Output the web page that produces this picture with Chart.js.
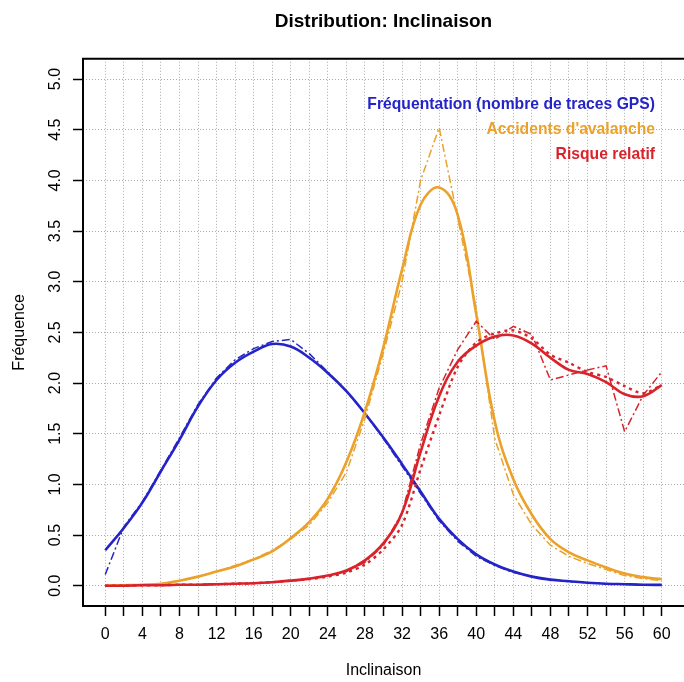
<!DOCTYPE html>
<html>
<head>
<meta charset="utf-8">
<script src="https://cdn.jsdelivr.net/npm/chart.js@4"></script>
<style>
  html, body { margin: 0; padding: 0; background: #fff; }
  #wrap { width: 684px; height: 682px; }
</style>
</head>
<body>
<div id="wrap"><canvas id="chart" width="684" height="682"></canvas></div>
<script>
// Inclinaison (degrés) - one value every 2°
const inclinaison = [0, 2, 4, 6, 8, 10, 12, 14, 16, 18, 20, 22, 24, 26, 28, 30,
                     32, 34, 36, 38, 40, 42, 44, 46, 48, 50, 52, 54, 56, 58, 60];
const labeledTicks = [0, 4, 8, 12, 16, 20, 24, 28, 32, 36, 40, 44, 48, 52, 56, 60];
const yTicks = [0, 0.5, 1, 1.5, 2, 2.5, 3, 3.5, 4, 4.5, 5];
const yTickLabels = ['0.0', '0.5', '1.0', '1.5', '2.0', '2.5', '3.0', '3.5', '4.0', '4.5', '5.0'];

// Fréquentation (nombre de traces GPS)
const frequentationLisse = [0.35, 0.57, 0.82, 1.13, 1.44, 1.77, 2.03, 2.20, 2.31, 2.385, 2.36, 2.25, 2.10, 1.92, 1.70, 1.46,
                            1.20, 0.93, 0.66, 0.46, 0.31, 0.21, 0.14, 0.09, 0.06, 0.045, 0.03, 0.02, 0.015, 0.01, 0.008];
const frequentationBrut = [0.11, 0.58, 0.83, 1.14, 1.46, 1.79, 2.05, 2.23, 2.34, 2.41, 2.43, 2.29, 2.11, 1.92, 1.70, 1.45,
                           1.18, 0.91, 0.64, 0.44, 0.29, 0.20, 0.13, 0.09, 0.06, 0.04, 0.03, 0.02, 0.015, 0.01, 0.008];

// Accidents d'avalanche
const accidentsLisse = [0, 0.005, 0.01, 0.02, 0.05, 0.09, 0.14, 0.19, 0.26, 0.34, 0.47, 0.63, 0.86, 1.22, 1.72, 2.36,
                        3.12, 3.76, 3.93, 3.66, 2.68, 1.62, 1.05, 0.70, 0.46, 0.33, 0.25, 0.18, 0.12, 0.085, 0.065];
const accidentsBrut = [0, 0.005, 0.01, 0.02, 0.05, 0.09, 0.14, 0.20, 0.26, 0.35, 0.46, 0.60, 0.82, 1.12, 1.65, 2.30,
                       3.00, 4.00, 4.52, 3.63, 2.73, 1.45, 0.90, 0.60, 0.40, 0.29, 0.22, 0.16, 0.10, 0.07, 0.05];

// Risque relatif
const risqueLisse = [0, 0, 0.005, 0.005, 0.01, 0.01, 0.015, 0.02, 0.025, 0.035, 0.05, 0.07, 0.10, 0.15, 0.25, 0.42,
                     0.72, 1.32, 1.87, 2.21, 2.37, 2.46, 2.47, 2.39, 2.25, 2.13, 2.09, 2.01, 1.89, 1.87, 1.98];
const risqueBrut = [0, 0, 0.005, 0.005, 0.01, 0.01, 0.015, 0.02, 0.025, 0.035, 0.05, 0.07, 0.10, 0.14, 0.23, 0.40,
                    0.72, 1.40, 1.95, 2.33, 2.61, 2.43, 2.56, 2.48, 2.03, 2.08, 2.13, 2.17, 1.52, 1.88, 2.11];
const risquePointille = [0, 0, 0.005, 0.005, 0.01, 0.01, 0.015, 0.02, 0.025, 0.035, 0.05, 0.065, 0.09, 0.13, 0.21, 0.36,
                         0.60, 1.15, 1.68, 2.16, 2.40, 2.49, 2.52, 2.44, 2.28, 2.20, 2.11, 2.06, 1.97, 1.90, 1.98];

const seriesNames = ['Fréquentation (nombre de traces GPS)', "Accidents d'avalanche", 'Risque relatif'];

const BLUE = '#2424c8';
const ORANGE = '#eba12a';
const RED = '#d9232b';
const seriesColors = [BLUE, ORANGE, RED];
const FONT = '"Liberation Sans", Arial, Helvetica, sans-serif';

function points(values) {
    return inclinaison.map((x, i) => ({ x: x, y: values[i] }));
}

function solid(label, values, color) {
    return { label, data: points(values), borderColor: color, borderWidth: 2.6, tension: 0.4, pointRadius: 0, fill: false };
}

function dashed(label, values, color) {
    return { label, data: points(values), borderColor: color, borderWidth: 1.5, borderDash: [8, 3, 2, 3],
             tension: 0, pointRadius: 0, fill: false };
}

// box, rotated y labels and text legend
const framePlugin = {
    id: 'frame',
    afterDraw(chart) {
        const { ctx, chartArea: a, scales: { y } } = chart;
        ctx.save();
        ctx.setLineDash([]);
        ctx.strokeStyle = '#000';
        ctx.lineWidth = 2;
        ctx.beginPath();
        ctx.moveTo(a.right + 2, a.top);
        ctx.lineTo(a.left, a.top);
        ctx.lineTo(a.left, a.bottom);
        ctx.lineTo(a.right + 2, a.bottom);
        ctx.stroke();

        ctx.fillStyle = '#000';
        ctx.font = '16px ' + FONT;
        ctx.textAlign = 'center';
        ctx.textBaseline = 'middle';
        yTicks.forEach((v, i) => {
            ctx.save();
            ctx.translate(a.left - 27, y.getPixelForValue(v));
            ctx.rotate(-Math.PI / 2);
            ctx.fillText(yTickLabels[i], 0, 0);
            ctx.restore();
        });

        ctx.font = 'bold 15.7px ' + FONT;
        ctx.textAlign = 'right';
        seriesNames.forEach((name, i) => {
            ctx.fillStyle = seriesColors[i];
            ctx.fillText(name, a.right - 29, a.top + 46 + i * 25);
        });
        ctx.restore();
    }
};

new Chart(document.getElementById('chart'), {
    type: 'line',
    data: {
        datasets: [
            { label: 'Risque relatif (pointillé)', data: points(risquePointille), borderColor: RED, borderWidth: 2.4,
              borderDash: [3, 4], tension: 0.3, pointRadius: 0, fill: false },
            dashed('Risque relatif (brut)', risqueBrut, RED),
            solid('Risque relatif', risqueLisse, RED),
            dashed("Accidents d'avalanche (brut)", accidentsBrut, ORANGE),
            solid("Accidents d'avalanche", accidentsLisse, ORANGE),
            dashed('Fréquentation (brut)', frequentationBrut, BLUE),
            solid('Fréquentation', frequentationLisse, BLUE)
        ]
    },
    options: {
        responsive: false,
        animation: false,
        devicePixelRatio: 1,
        layout: { padding: 0 },
        plugins: {
            legend: { display: false },
            tooltip: { enabled: false },
            title: {
                display: true,
                fullSize: false,
                text: 'Distribution: Inclinaison',
                color: '#000',
                font: { family: FONT, size: 19, weight: 'bold' },
                padding: { top: 10, bottom: 26 }
            }
        },
        scales: {
            x: {
                type: 'linear',
                min: -2.4,
                max: 62.4,
                afterBuildTicks: s => { s.ticks = inclinaison.map(v => ({ value: v })); },
                afterFit: s => { s.height = 76; },
                ticks: {
                    autoSkip: false,
                    maxRotation: 0,
                    color: '#000',
                    padding: 9,
                    font: { family: FONT, size: 16 },
                    callback: v => labeledTicks.includes(v) ? String(v) : ''
                },
                grid: { color: '#aaaaaa', lineWidth: 1, tickLength: 10, tickColor: '#000', tickWidth: 1.5, tickBorderDash: [] },
                border: { display: false, dash: [1, 2] },
                title: { display: true, text: 'Inclinaison', color: '#000', font: { family: FONT, size: 16 },
                         padding: { top: 0, bottom: 2 } }
            },
            y: {
                type: 'linear',
                min: -0.2,
                max: 5.2,
                afterBuildTicks: s => { s.ticks = yTicks.map(v => ({ value: v })); },
                afterFit: s => { s.width = 83; },
                ticks: { display: false },
                grid: { color: '#aaaaaa', lineWidth: 1, tickLength: 10, tickColor: '#000', tickWidth: 1.5, tickBorderDash: [] },
                border: { display: false, dash: [1, 2] },
                title: { display: true, text: 'Fréquence', color: '#000', font: { family: FONT, size: 16 },
                         padding: { top: 10, bottom: 0 } }
            }
        }
    },
    plugins: [framePlugin]
});
</script>
</body>
</html>
